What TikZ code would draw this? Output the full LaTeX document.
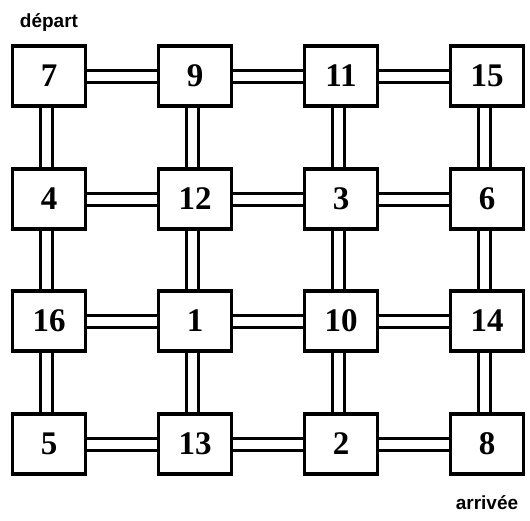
\documentclass[tikz,border=0pt]{standalone}
\usepackage{fontspec}
\setmainfont{Liberation Serif}
\newfontfamily\etiq{Liberation Sans}
\usepackage{tikz}
\usetikzlibrary{positioning, calc, backgrounds}

\begin{document}
\begin{tikzpicture}[x=1pt, y=1pt,
  caseile/.style={draw, line width=3.3pt, fill=white,
                  minimum width=73pt, minimum height=60pt,
                  inner sep=0pt, font=\bfseries\fontsize{33}{33}\selectfont},
  pont/.style={double, line width=3pt, double distance=9pt},
  titre/.style={font=\etiq\bfseries\fontsize{19}{19}\selectfont}
]
  \useasboundingbox (0,0) rectangle (530,-520);

  %=========================================================
  % 1. Les cases (4 x 4)
  %=========================================================
  \node[caseile] (c7)  at (49,-76)   {7};
  \node[caseile] (c9)  at (195,-76)  {9};
  \node[caseile] (c11) at (341,-76)  {11};
  \node[caseile] (c15) at (487,-76)  {15};

  \node[caseile] (c4)  at (49,-199)  {4};
  \node[caseile] (c12) at (195,-199) {12};
  \node[caseile] (c3)  at (341,-199) {3};
  \node[caseile] (c6)  at (487,-199) {6};

  \node[caseile] (c16) at (49,-321)  {16};
  \node[caseile] (c1)  at (195,-321) {1};
  \node[caseile] (c10) at (341,-321) {10};
  \node[caseile] (c14) at (487,-321) {14};

  \node[caseile] (c5)  at (49,-444)  {5};
  \node[caseile] (c13) at (195,-444) {13};
  \node[caseile] (c2)  at (341,-444) {2};
  \node[caseile] (c8)  at (487,-444) {8};

  %=========================================================
  % 2. Les ponts horizontaux
  %=========================================================
  \draw[pont] (c7) -- (c9);   \draw[pont] (c9) -- (c11);  \draw[pont] (c11) -- (c15);
  \draw[pont] (c4) -- (c12);  \draw[pont] (c12) -- (c3);  \draw[pont] (c3) -- (c6);
  \draw[pont] (c16) -- (c1);  \draw[pont] (c1) -- (c10);  \draw[pont] (c10) -- (c14);
  \draw[pont] (c5) -- (c13);  \draw[pont] (c13) -- (c2);  \draw[pont] (c2) -- (c8);

  %=========================================================
  % 3. Les ponts verticaux (un peu decales a gauche)
  %=========================================================
  \draw[pont] ([xshift=-3pt]c7.south)  -- ([xshift=-3pt]c4.north);
  \draw[pont] ([xshift=-3pt]c4.south)  -- ([xshift=-3pt]c16.north);
  \draw[pont] ([xshift=-3pt]c16.south) -- ([xshift=-3pt]c5.north);
  \draw[pont] ([xshift=-3pt]c9.south)  -- ([xshift=-3pt]c12.north);
  \draw[pont] ([xshift=-3pt]c12.south) -- ([xshift=-3pt]c1.north);
  \draw[pont] ([xshift=-3pt]c1.south)  -- ([xshift=-3pt]c13.north);
  \draw[pont] ([xshift=-3pt]c11.south) -- ([xshift=-3pt]c3.north);
  \draw[pont] ([xshift=-3pt]c3.south)  -- ([xshift=-3pt]c10.north);
  \draw[pont] ([xshift=-3pt]c10.south) -- ([xshift=-3pt]c2.north);
  \draw[pont] ([xshift=-3pt]c15.south) -- ([xshift=-3pt]c6.north);
  \draw[pont] ([xshift=-3pt]c6.south)  -- ([xshift=-3pt]c14.north);
  \draw[pont] ([xshift=-3pt]c14.south) -- ([xshift=-3pt]c8.north);

  %=========================================================
  % 4. Depart et arrivee
  %=========================================================
  \node[titre, above=9pt of c7] (depart) {départ};
  \node[titre, below=16pt of c8] (arrivee) {arrivée};

\end{tikzpicture}
\end{document}
